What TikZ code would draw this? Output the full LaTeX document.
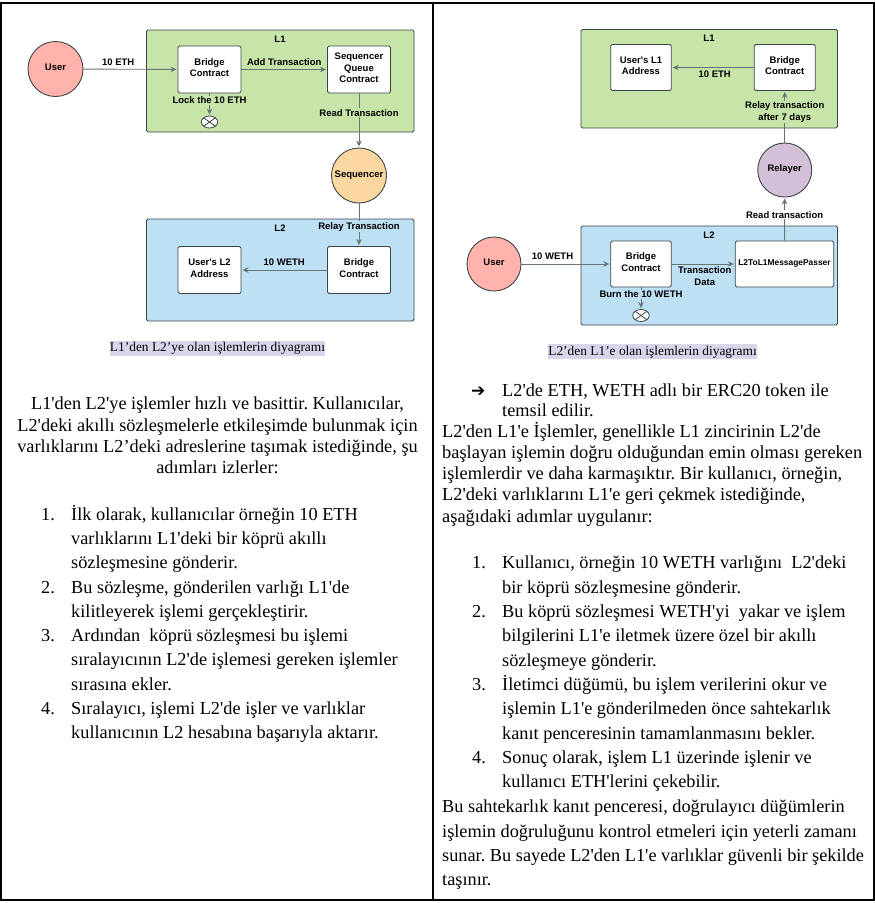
\documentclass[tikz,border=0pt]{standalone}
\usepackage{fontspec}
\setmainfont{Liberation Serif}[Ligatures=TeXOff]
\newfontfamily\diagfont{Liberation Sans}
\newfontfamily\symbfont{DejaVu Sans}
\usetikzlibrary{shapes.geometric,arrows.meta}
\frenchspacing
\definecolor{greenbox}{HTML}{C7E5A9}
\definecolor{bluebox}{HTML}{BDE0F5}
\definecolor{pinknode}{HTML}{FFB3AC}
\definecolor{orangenode}{HTML}{FAD7A0}
\definecolor{purplenode}{HTML}{D3BFD8}
\definecolor{capback}{HTML}{DAD4EA}
\definecolor{edge}{HTML}{3C4646}
\definecolor{link}{HTML}{687474}
\newcommand{\lineup}{\rule{0pt}{16pt}}
\tikzset{
  layerbox/.style={draw=edge, rounded corners=1.5pt, line width=.9pt},
  contract/.style={draw=edge, fill=white, rounded corners=1.5pt, line width=.9pt, align=center, font=\diagfont\bfseries\fontsize{9.5}{11.3}\selectfont, inner sep=0pt, execute at end node={\rule[-3.6pt]{0pt}{0pt}}},
  actor/.style={draw=edge, circle, line width=.9pt, minimum size=55pt, inner sep=0pt, font=\diagfont\bfseries\fontsize{9.5}{11.3}\selectfont, execute at end node={\rule[-3.6pt]{0pt}{0pt}}},
  burnmark/.style={draw=edge, fill=white, ellipse, line width=.8pt, minimum width=16.5pt, minimum height=12pt, inner sep=0pt, path picture={\draw[edge, line width=.8pt] (path picture bounding box.north west) -- (path picture bounding box.south east); \draw[edge, line width=.8pt] (path picture bounding box.south west) -- (path picture bounding box.north east);}},
  flow/.style={->, draw=link, line width=.9pt, shorten >=1pt},
  flowlabel/.style={align=center, inner sep=1pt, text=black, font=\diagfont\bfseries\fontsize{9.5}{11.3}\selectfont},
  layername/.style={inner sep=0pt, font=\diagfont\bfseries\fontsize{9.5}{11.3}\selectfont},
  caption/.style={fill=capback, inner sep=0pt, minimum height=15pt, font=\fontsize{13.4}{15}\selectfont},
  bodytext/.style={anchor=north west, align=left, inner sep=0pt, font=\fontsize{18.3}{24.3}\selectfont},
  paratext/.style={bodytext, font=\fontsize{18.4}{21.2}\selectfont},
  listnum/.style={anchor=north west, inner sep=0pt, font=\fontsize{18.3}{24.3}\selectfont},
}
\begin{document}
\begin{tikzpicture}[>={Stealth[length=6pt,width=5.5pt]}, x=1pt, y=-1pt]
\useasboundingbox (0,0) rectangle (875,903);
\fill[white] (0,0) rectangle (875,903);
\draw[line width=2pt] (1,2.5) rectangle (873.5,899.5);
\draw[line width=2pt] (433,2.5) -- (433,899.5);

% left diagram
\node[layerbox, fill=greenbox, minimum width=267.5pt, minimum height=102pt] (ltop) at (280.25,81) {};
\node[layerbox, fill=bluebox, minimum width=267.5pt, minimum height=102pt] (lbot) at (280.25,270) {};
\node[layername] (ltopname) at (280,39) {L1};
\node[layername] (lbotname) at (280,228) {L2};
\node[actor, fill=pinknode] (luser) at (55.5,69) {User};
\node[contract, minimum width=63pt, minimum height=47pt] (lbridge) at (209.5,69.5) {Bridge\\Contract};
\node[contract, minimum width=63pt, minimum height=47pt] (lqueue) at (359,69.5) {Sequencer\\Queue\\Contract};
\node[burnmark] (llock) at (209.5,122) {};
\node[actor, fill=orangenode] (lseq) at (359,175.5) {Sequencer};
\node[contract, minimum width=63pt, minimum height=47pt] (laddr) at (209.5,270) {User's L2\\Address};
\node[contract, minimum width=63pt, minimum height=47pt] (lbridgetwo) at (359,270) {Bridge\\Contract};

\draw[flow] (luser) -- node[flowlabel, above=2.5pt, pos=.37] {10 ETH} (lbridge);
\draw[flow] (lbridge) -- node[flowlabel, above=2.5pt] {Add Transaction} (lqueue);
\draw[flow] (lbridge) -- node[flowlabel, fill=greenbox, pos=.3] {Lock the 10 ETH} (llock);
\draw[flow] (lqueue) -- node[flowlabel, fill=greenbox, pos=.36] {Read Transaction} (lseq);
\draw[flow] (lseq) -- node[flowlabel, fill=bluebox, pos=.55] {Relay Transaction} (lbridgetwo);
\draw[flow] (lbridgetwo) -- node[flowlabel, above=2.5pt] {10 WETH} (laddr);

\node[caption, minimum width=215pt] (lcap) at (217.5,348.2) {L1’den L2’ye olan işlemlerin diyagramı};

% right diagram
\node[layerbox, fill=greenbox, minimum width=256.5pt, minimum height=98.5pt] (rtop) at (709.25,78.75) {};
\node[layerbox, fill=bluebox, minimum width=256.5pt, minimum height=99pt] (rbot) at (709.25,275.5) {};
\node[layername] (rtopname) at (709,38) {L1};
\node[layername] (rbotname) at (709,235) {L2};
\node[contract, minimum width=60.5pt, minimum height=46pt] (raddr) at (641,67.5) {User's L1\\Address};
\node[contract, minimum width=61pt, minimum height=46pt] (rbridgetwo) at (784.75,67.5) {Bridge\\Contract};
\node[actor, fill=purplenode, minimum size=54pt] (rrelay) at (784.75,170) {Relayer};
\node[actor, fill=pinknode, minimum size=54pt] (ruser) at (494,264) {User};
\node[contract, minimum width=60.5pt, minimum height=46pt] (rbridge) at (641,264) {Bridge\\Contract};
\node[contract, minimum width=98.5pt, minimum height=46pt, font=\diagfont\bfseries\fontsize{8.4}{10}\selectfont] (rpasser) at (784.5,264) {L2ToL1MessagePasser};
\node[burnmark] (rburn) at (641,315.5) {};

\draw[flow] (ruser) -- node[flowlabel, above=2.5pt, pos=.35] {10 WETH} (rbridge);
\draw[flow] (rbridge) -- node[flowlabel, below=1.5pt, xshift=1.5pt] {Transaction\\Data} (rpasser);
\draw[flow] (rbridge) -- node[flowlabel, fill=bluebox, pos=.32] {Burn the 10 WETH} (rburn);
\draw[flow] (rpasser) -- node[flowlabel, fill=white, pos=.6] {Read transaction} (rrelay);
\draw[flow] (rrelay) -- node[flowlabel, fill=greenbox, pos=.59] {Relay transaction\\after 7 days} (rbridgetwo);
\draw[flow] (rbridgetwo) -- node[flowlabel, below=1.5pt, xshift=2pt] {10 ETH} (raddr);

\node[caption, minimum width=207pt] (rcap) at (652.5,351.8) {L2’den L1’e olan işlemlerin diyagramı};

% left text
\node[anchor=north, align=center, inner sep=0pt, font=\fontsize{18.3}{21.1}\selectfont] (lintro) at (217.5,393.7) {\lineup L1'den L2'ye işlemler hızlı ve basittir. Kullanıcılar,\\L2'deki akıllı sözleşmelerle etkileşimde bulunmak için\\varlıklarını L2’deki adreslerine taşımak istediğinde, şu\\adımları izlerler:};
\node[listnum] (lnumone) at (41,504) {\lineup 1.};
\node[bodytext] (lstepone) at (71,504) {\lineup İlk olarak, kullanıcılar örneğin 10 ETH\\varlıklarını L1'deki bir köprü akıllı\\sözleşmesine gönderir.};
\node[listnum] (lnumtwo) at (41,576.8) {\lineup 2.};
\node[bodytext] (lsteptwo) at (71,576.8) {\lineup Bu sözleşme, gönderilen varlığı L1'de\\kilitleyerek işlemi gerçekleştirir.};
\node[listnum] (lnumthree) at (41,625.4) {\lineup 3.};
\node[bodytext] (lstepthree) at (71,625.4) {\lineup Ardından\ \ köprü sözleşmesi bu işlemi\\sıralayıcının L2'de işlemesi gereken işlemler\\sırasına ekler.};
\node[listnum] (lnumfour) at (41,698.2) {\lineup 4.};
\node[bodytext] (lstepfour) at (71,698.2) {\lineup Sıralayıcı, işlemi L2'de işler ve varlıklar\\kullanıcının L2 hesabına başarıyla aktarır.};

% right text
\node[listnum, font=\symbfont\bfseries\fontsize{17}{20}\selectfont] (rnote) at (471,380) {\lineup ➔};
\node[paratext, font=\fontsize{18.3}{20.5}\selectfont] (rnotetext) at (502,380) {\lineup L2'de ETH, WETH adlı bir ERC20 token ile\\temsil edilir.};
\node[paratext] (rintro) at (442,421) {\lineup L2'den L1'e İşlemler, genellikle L1 zincirinin L2'de\\başlayan işlemin doğru olduğundan emin olması gereken\\işlemlerdir ve daha karmaşıktır. Bir kullanıcı, örneğin,\\L2'deki varlıklarını L1'e geri çekmek istediğinde,\\aşağıdaki adımlar uygulanır:};
\node[listnum] (rnumone) at (472,552.7) {\lineup 1.};
\node[bodytext] (rstepone) at (502,552.7) {\lineup Kullanıcı, örneğin 10 WETH varlığını\ \ L2'deki\\bir köprü sözleşmesine gönderir.};
\node[listnum] (rnumtwo) at (472,601.3) {\lineup 2.};
\node[bodytext] (rsteptwo) at (502,601.3) {\lineup Bu köprü sözleşmesi WETH'yi\ \ yakar ve işlem\\bilgilerini L1'e iletmek üzere özel bir akıllı\\sözleşmeye gönderir.};
\node[listnum] (rnumthree) at (472,674.2) {\lineup 3.};
\node[bodytext] (rstepthree) at (502,674.2) {\lineup İletimci düğümü, bu işlem verilerini okur ve\\işlemin L1'e gönderilmeden önce sahtekarlık\\kanıt penceresinin tamamlanmasını bekler.};
\node[listnum] (rnumfour) at (472,747.1) {\lineup 4.};
\node[bodytext] (rstepfour) at (502,747.1) {\lineup Sonuç olarak, işlem L1 üzerinde işlenir ve\\kullanıcı ETH'lerini çekebilir.};
\node[bodytext] (routro) at (442,796.7) {\lineup Bu sahtekarlık kanıt penceresi, doğrulayıcı düğümlerin\\işlemin doğruluğunu kontrol etmeleri için yeterli zamanı\\sunar. Bu sayede L2'den L1'e varlıklar güvenli bir şekilde\\taşınır.};
\end{tikzpicture}
\end{document}
